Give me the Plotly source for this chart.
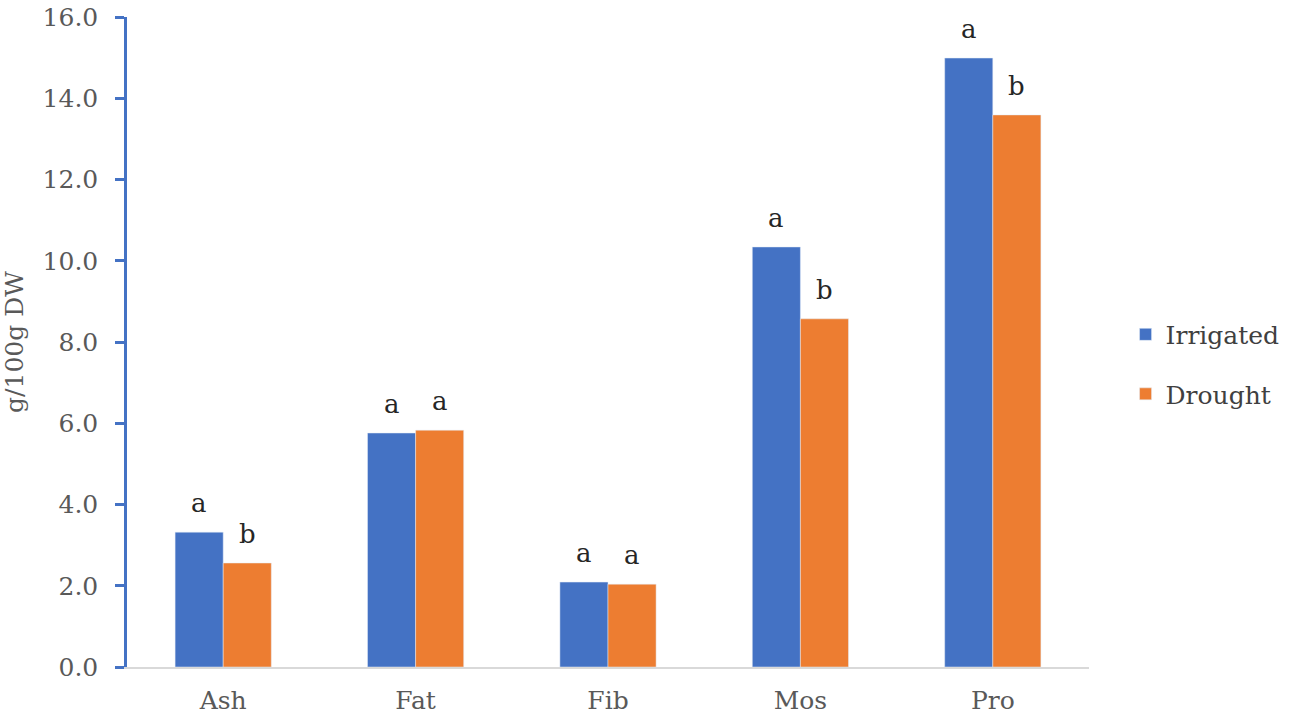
import plotly.graph_objects as go

# Proximate composition, g/100g DW
categories = ["Ash", "Fat", "Fib", "Mos", "Pro"]
irrigated = [3.32, 5.76, 2.09, 10.34, 14.99]
drought = [2.56, 5.83, 2.04, 8.57, 13.59]
letters_irrigated = ["a", "a", "a", "a", "a"]
letters_drought = ["b", "a", "a", "b", "b"]

BLUE = "#4472C4"
ORANGE = "#ED7D31"
FONT = "DejaVu Serif"

fig = go.Figure()
fig.add_trace(go.Bar(x=categories, y=irrigated, name="Irrigated",
                     marker=dict(color=BLUE), legendgroup="i"))
fig.add_trace(go.Bar(x=categories, y=drought, name="Drought",
                     marker=dict(color=ORANGE), legendgroup="d"))

# significance letters above each bar
annotations = []
for series, letters, shift in ((irrigated, letters_irrigated, -24),
                               (drought, letters_drought, 24)):
    for cat, v, lab in zip(categories, series, letters):
        annotations.append(dict(x=cat, y=v, text=lab, xref="x", yref="y",
                                xshift=shift, yshift=12, yanchor="bottom",
                                showarrow=False,
                                font=dict(family=FONT, size=26, color="#262626")))

fig.update_layout(
    width=1289, height=725,
    barmode="group", bargap=0.5, bargroupgap=0,
    plot_bgcolor="white", paper_bgcolor="white",
    font=dict(family=FONT, size=25, color="#595959"),
    margin=dict(l=127, r=200, t=17, b=58, autoexpand=False),
    annotations=annotations,
    legend=dict(x=1.038, y=0.466, xanchor="left", yanchor="middle",
                font=dict(size=25, color="#404040"),
                traceorder="grouped", tracegroupgap=24),
    xaxis=dict(showline=True, linecolor="#D9D9D9", linewidth=1.5,
               ticks="", showgrid=False, tickfont=dict(size=25),
               ticklabelstandoff=10, automargin=False),
    yaxis=dict(range=[0, 16], dtick=2, tickformat=".1f",
               showline=True, linecolor=BLUE, linewidth=2.5,
               ticks="outside", tickcolor=BLUE, ticklen=9, tickwidth=2.5,
               showgrid=False, zeroline=False, tickfont=dict(size=25),
               ticklabelstandoff=12, ticklabeloverflow="allow",
               automargin=False,
               title=dict(text="g/100g DW", font=dict(size=25),
                          standoff=14)),
)

# drop the browser's default 8px body margin so the figure fills the window
fig.write_html("out.html",
               config={"displayModeBar": False},
               post_script="document.body.style.margin='0';"
                           "document.body.style.overflow='hidden';")
